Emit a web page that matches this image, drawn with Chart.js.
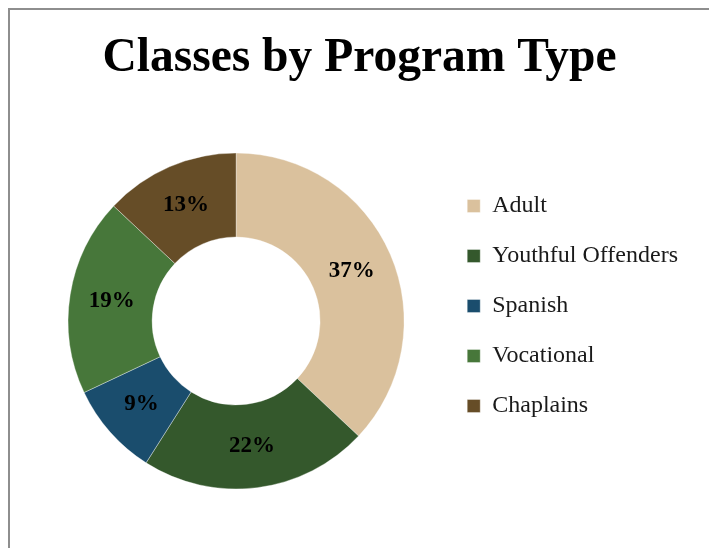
<!DOCTYPE html>
<html lang="en">
<head>
    <meta charset="UTF-8">
    <title>Classes by Program Type</title>
    <script src="https://cdn.jsdelivr.net/npm/chart.js@4.4.0/dist/chart.umd.min.js"></script>
    <style>
        html, body { margin: 0; padding: 0; background: #fff; overflow: hidden; }
        #wrap { position: relative; width: 709px; height: 548px; }
        #frame {
            position: absolute; left: 8px; top: 8px; width: 720px; height: 560px;
            border-left: 2px solid #8e8e8e; border-top: 2px solid #8e8e8e;
            pointer-events: none;
        }
    </style>
</head>
<body>
    <div id="wrap">
        <canvas id="programChart"></canvas>
        <div id="frame"></div>
    </div>

    <script>
        // data
        const programs = ['Adult', 'Youthful Offenders', 'Spanish', 'Vocational', 'Chaplains'];
        const shares = [37, 22, 9, 19, 13];
        const sliceColors = ['#dac19d', '#34582c', '#1a4d6d', '#47773a', '#664d27'];

        // percent labels drawn in the middle of each slice
        const sliceLabels = {
            id: 'sliceLabels',
            afterDatasetsDraw(chart) {
                const ctx = chart.ctx;
                const meta = chart.getDatasetMeta(0);
                ctx.save();
                ctx.font = 'bold 23px "Liberation Serif", serif';
                ctx.fillStyle = '#000';
                ctx.textAlign = 'center';
                ctx.textBaseline = 'middle';
                meta.data.forEach((arc, i) => {
                    const p = arc.getCenterPoint();
                    ctx.fillText(shares[i] + '%', p.x, p.y);
                });
                ctx.restore();
            }
        };

        new Chart(document.getElementById('programChart'), {
            type: 'doughnut',
            data: {
                labels: programs,
                datasets: [{
                    data: shares,
                    backgroundColor: sliceColors,
                    borderColor: 'rgba(255,255,255,0.6)',
                    borderWidth: 0.6
                }]
            },
            options: {
                responsive: true,
                maintainAspectRatio: false,
                animation: false,
                radius: 168,
                cutout: '50%',
                layout: { padding: { left: 31, right: 21, top: 0, bottom: 74 } },
                plugins: {
                    title: {
                        display: true,
                        text: 'Classes by Program Type',
                        color: '#000',
                        font: { family: '"Liberation Serif", serif', size: 47.5, weight: 'bold' },
                        padding: { top: 30, bottom: 81 }
                    },
                    legend: {
                        position: 'right',
                        align: 'start',
                        fullSize: false,
                        labels: {
                            color: '#1a1a1a',
                            font: { family: '"Liberation Serif", serif', size: 24 },
                            boxWidth: 13,
                            boxHeight: 13,
                            padding: 26
                        }
                    },
                    tooltip: { enabled: false }
                }
            },
            plugins: [sliceLabels]
        });
    </script>
</body>
</html>
